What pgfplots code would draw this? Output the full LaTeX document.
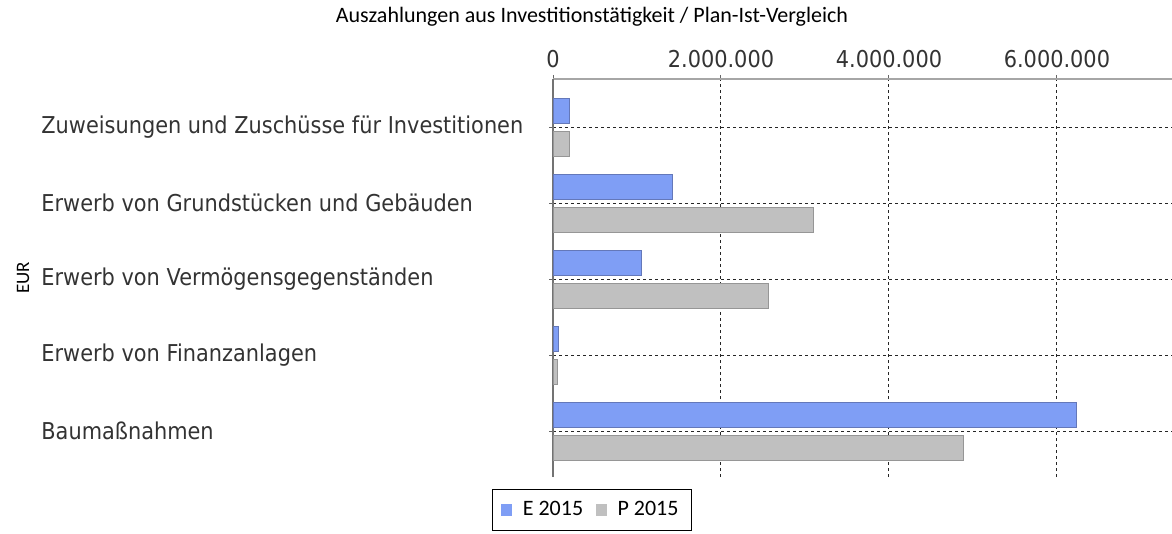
\documentclass[border=0pt]{standalone}
\usepackage{pgfplots}
\pgfplotsset{compat=1.18}
\usepackage{fontspec}
\setmainfont{Carlito}
\newfontfamily\tahfont[FakeStretch=0.9]{DejaVu Sans}
\newfontfamily\calfont{Carlito}

\definecolor{ebar}{RGB}{127,158,245}
\definecolor{ebarline}{RGB}{100,120,185}
\definecolor{pbar}{RGB}{192,192,192}
\definecolor{pbarline}{RGB}{150,150,150}

\begin{document}
\begin{tikzpicture}
  \useasboundingbox (0,0) rectangle (586pt,-267pt);
  \begin{axis}[
      at={(276.5pt,-238.5pt)}, anchor=south west,
      scale only axis,
      width=309.5pt, height=199pt,
      xbar, bar width=12.5pt,
      xmin=0, xmax=7.37e6,
      ymin=-0.605, ymax=4.632,
      xtick={0,2000000,4000000,6000000},
      scaled x ticks=false,
      xticklabel style={font=\tahfont\fontsize{11.6}{13}\selectfont, text=black!80},
      /pgf/number format/.cd, fixed, precision=0, 1000 sep={.}, assume math mode=true,
      /pgfplots/.cd,
      ytick={0,1,2,3,4},
      yticklabels={Baumaßnahmen, Erwerb von Finanzanlagen, Erwerb von Vermögensgegenständen,
        Erwerb von Grundstücken und Gebäuden, Zuweisungen und Zuschüsse für Investitionen},
      yticklabel style={font=\tahfont\fontsize{11.6}{13}\selectfont, text=black!80,
        anchor=west, inner xsep=0pt, xshift=-254pt},
      axis x line*=top,
      axis y line*=left,
      x axis line style={black!35, line width=0.6pt},
      y axis line style={black!55, line width=0.6pt},
      tick align=outside,
      major tick length=2pt,
      tick style={black!60, line width=0.5pt},
      xmajorgrids, ymajorgrids,
      grid style={black!85, line width=0.5pt, dash pattern=on 1.5pt off 1.5pt},
      ylabel={EUR},
      ylabel style={font=\calfont\fontsize{9.5}{11}\selectfont, at={(axis description cs:-0.856,0.5)}, anchor=center},
      legend columns=2,
      legend style={at={(axis description cs:0.063,-0.0829)}, anchor=center,
        draw=black, line width=0.8pt, inner ysep=4pt, inner xsep=4.5pt,
        font=\calfont\fontsize{11}{13}\selectfont,
        /tikz/every even column/.append style={column sep=4.5pt}},
      legend image code/.code={\fill[#1,draw=none] (0pt,-3.2pt) rectangle (5.5pt,3.2pt); \path (8.5pt,0pt);},
    ]
    % E 2015
    \addplot[fill=ebar, draw=ebarline, line width=0.4pt, bar shift=8pt] coordinates {
      (6230000,0) (60000,1) (1050000,2) (1420000,3) (190000,4)
    };
    % P 2015
    \addplot[fill=pbar, draw=pbarline, line width=0.4pt, bar shift=-8.25pt] coordinates {
      (4890000,0) (50000,1) (2570000,2) (3100000,3) (200000,4)
    };
    \legend{E 2015, P 2015}
  \end{axis}
  % chart title
  \node[font=\calfont\fontsize{11}{13}\selectfont, anchor=base] at (296pt,-11.5pt)
    {Auszahlungen aus Investitionstätigkeit / Plan-Ist-Vergleich};
\end{tikzpicture}
\end{document}
